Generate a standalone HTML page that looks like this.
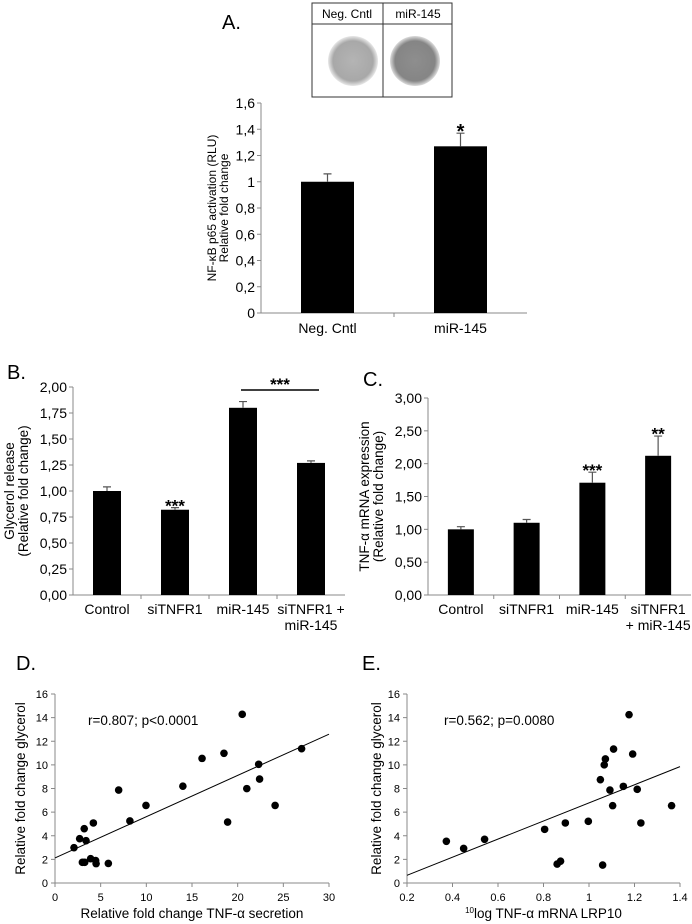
<!DOCTYPE html>
<html><head><meta charset="utf-8"><style>
html,body{margin:0;padding:0;background:#fff;}
svg{display:block;font-family:"Liberation Sans",sans-serif;}
</style></head><body>
<svg id="fig" width="692" height="924" viewBox="0 0 692 924" xmlns="http://www.w3.org/2000/svg">
<defs>
<radialGradient id="dot1" cx="50%" cy="50%" r="50%"><stop offset="0" stop-color="#b4b4b4"/><stop offset="0.8" stop-color="#a8a8a8"/><stop offset="1" stop-color="#e8e8e8"/></radialGradient>
<radialGradient id="dot2" cx="50%" cy="50%" r="50%"><stop offset="0" stop-color="#8e8e8e"/><stop offset="0.8" stop-color="#858585"/><stop offset="1" stop-color="#dcdcdc"/></radialGradient>
</defs>
<g>
<rect x="312" y="3" width="140" height="94" fill="#fff" stroke="#333" stroke-width="1"/>
<line x1="312" y1="24" x2="452" y2="24" stroke="#333"/>
<line x1="383" y1="3" x2="383" y2="97" stroke="#333"/>
<text x="347" y="18" font-size="12" text-anchor="middle">Neg. Cntl</text>
<text x="418" y="18" font-size="12" text-anchor="middle">miR-145</text>
<circle cx="353" cy="61" r="25" fill="url(#dot1)"/>
<circle cx="415" cy="61" r="25" fill="url(#dot2)"/>
</g>
<text x="222" y="29" font-size="20">A.</text>
<text x="7" y="379" font-size="20">B.</text>
<text x="363" y="386" font-size="20">C.</text>
<text x="16" y="670" font-size="20">D.</text>
<text x="362" y="670" font-size="20">E.</text>
</svg>
<script>
// Panel A data
const aCats = ["Neg. Cntl", "miR-145"];
const aVals = [1.0, 1.27];
const aErr = [0.06, 0.10];
const aSig = ["", "*"];
const aTicks = ["0","0,2","0,4","0,6","0,8","1","1,2","1,4","1,6"];
// Panel B data
const bCats = [["Control"], ["siTNFR1"], ["miR-145"], ["siTNFR1 +", "miR-145"]];
const bVals = [1.0, 0.82, 1.80, 1.27];
const bErr = [0.04, 0.02, 0.06, 0.02];
const bSig = ["", "***", "", ""];
const bTicks = ["0,00","0,25","0,50","0,75","1,00","1,25","1,50","1,75","2,00"];
// Panel C data
const cCats = [["Control"], ["siTNFR1"], ["miR-145"], ["siTNFR1", "+ miR-145"]];
const cVals = [1.0, 1.10, 1.71, 2.12];
const cErr = [0.04, 0.05, 0.16, 0.30];
const cSig = ["", "", "***", "**"];
const cTicks = ["0,00","0,50","1,00","1,50","2,00","2,50","3,00"];
// Panel D data
const dX = [2.08,2.7,3.2,3.4,4.2,3.0,3.25,3.9,4.45,4.5,5.84,6.97,8.2,9.96,14.0,16.1,18.5,18.9,20.5,21.0,22.3,22.4,24.1,27.0];
const dY = [2.99,3.75,4.6,3.58,5.08,1.75,1.75,2.06,1.9,1.64,1.66,7.87,5.25,6.57,8.2,10.55,10.98,5.16,14.28,7.99,10.05,8.8,6.57,11.37];
const dFit = [2.12, 12.6];
const dXTicks = [0,5,10,15,20,25,30];
const dYTicks = [0,2,4,6,8,10,12,14,16];
// Panel E data
const eX = [0.373,0.449,0.541,0.805,0.896,0.86,0.875,0.997,1.05,1.06,1.067,1.072,1.092,1.104,1.108,1.151,1.176,1.192,1.212,1.228,1.363];
const eY = [3.53,2.93,3.7,4.54,5.08,1.6,1.85,5.22,8.75,1.52,10.0,10.5,7.87,6.55,11.34,8.18,14.25,10.92,7.93,5.08,6.55];
const eFit = [0.65, 9.85];
const eXTicks = [0.2,0.4,0.6,0.8,1,1.2,1.4];
const eYTicks = [0,2,4,6,8,10,12,14,16];

const svg = document.getElementById('fig');
const NS = 'http://www.w3.org/2000/svg';
function mk(tag, attrs, parent) {
  const e = document.createElementNS(NS, tag);
  for (const k in attrs) e.setAttribute(k, attrs[k]);
  (parent || svg).appendChild(e);
  return e;
}
function txt(x, y, s, size, anchor, parent) {
  const t = mk('text', {x: x, y: y, 'font-size': size, 'text-anchor': anchor || 'start'}, parent);
  t.textContent = s;
  return t;
}
const AX = '#888';

function barChart(cfg) {
  const g = mk('g', {});
  
  
  const ys = v => cfg.y0 - (v - 0) / cfg.ymax * (cfg.y0 - cfg.y1);
  const yl = mk('line', {x1: cfg.x0, y1: cfg.y0, x2: cfg.x0, y2: cfg.y1, stroke: AX}, g);
  
  
  const xl = mk('line', {x1: cfg.x0, y1: cfg.y0, x2: cfg.xEnd, y2: cfg.y0, stroke: AX}, g);
  
  
  const n = cfg.ticks.length;
  cfg.ticks.forEach((lab, i) => {
    const v = cfg.ymax * i / (n - 1);
    const y = ys(v);
    mk('line', {x1: cfg.x0 - 4, y1: y, x2: cfg.x0, y2: y, stroke: AX}, g);
    const t = txt(cfg.x0 - 6, y + 5, lab, cfg.tickSize, 'end', g);
    
    
  });
  const k = cfg.vals.length;
  const slot = (cfg.xEnd - cfg.x0) / k;
  for (let i = 1; i < k; i++) {
    const x = cfg.x0 + slot * i;
    mk('line', {x1: x, y1: cfg.y0, x2: x, y2: cfg.y0 + 4, stroke: AX}, g);
  }
  cfg.vals.forEach((v, i) => {
    const cx = cfg.x0 + slot * (i + 0.5);
    const top = ys(v);
    const b = mk('rect', {x: cx - cfg.bw / 2, y: top, width: cfg.bw, height: cfg.y0 - top, fill: '#000'}, g);
    
    
    const et = ys(v + cfg.err[i]);
    const eb = mk('path', {d: `M${cx} ${top}V${et}M${cx - 4} ${et}H${cx + 4}`, stroke: '#555', 'stroke-width': 1.2, fill: 'none'}, g);
    
    
    if (cfg.sig[i]) {
      const s = txt(cx, et - 4 + cfg.sigSize * 0.45, cfg.sig[i], cfg.sigSize, 'middle', g);
      s.setAttribute('font-weight', 'bold');
      
      
    }
    const labs = Array.isArray(cfg.cats[i]) ? cfg.cats[i] : [cfg.cats[i]];
    labs.forEach((l, j) => {
      const t = txt(cx, cfg.y0 + cfg.labOff + j * 16, l, cfg.tickSize, 'middle', g);
      
      
    });
  });
  const midY = (cfg.y0 + cfg.y1) / 2;
  cfg.ylabel.forEach((l, j) => {
    const x = cfg.ylabX + j * cfg.ylabGap;
    const t = txt(x, midY, l, cfg.ylabSize, 'middle', g);
    t.setAttribute('transform', `rotate(-90 ${x} ${midY})`);
    
    
  });
  return {g: g, ys: ys, slot: slot};
}

barChart({name: 'chart-a', x0: 261, xEnd: 527, y0: 313, y1: 103, ymax: 1.6, bw: 53,
  vals: aVals, err: aErr, sig: aSig, cats: aCats, ticks: aTicks, tickSize: 14, sigSize: 20,
  labOff: 20, ylabel: ['NF-\u03BAB p65 activation (RLU)', 'Relative fold change'], ylabX: 216, ylabGap: 12, ylabSize: 12});

barChart({name: 'chart-b', x0: 73, xEnd: 345, y0: 595, y1: 387, ymax: 2.0, bw: 28,
  vals: bVals, err: bErr, sig: bSig, cats: bCats, ticks: bTicks, tickSize: 14, sigSize: 17,
  labOff: 19, ylabel: ['Glycerol release', '(Relative fold change)'], ylabX: 14, ylabGap: 14, ylabSize: 13.5});
{
  const br = mk('line', {x1: 241, y1: 390, x2: 319, y2: 390, stroke: '#000', 'stroke-width': 1.5});
  
  
  const s = txt(280, 390, '***', 17, 'middle');
  s.setAttribute('font-weight', 'bold');
  
  
}

barChart({name: 'chart-c', x0: 428, xEnd: 691, y0: 595, y1: 398, ymax: 3.0, bw: 26,
  vals: cVals, err: cErr, sig: cSig, cats: cCats, ticks: cTicks, tickSize: 14, sigSize: 17,
  labOff: 19, ylabel: ['TNF-\u03B1 mRNA expression', '(Relative fold change)'], ylabX: 369, ylabGap: 14, ylabSize: 13.5});

function scatter(cfg) {
  const g = mk('g', {});
  
  
  const xs = v => cfg.x0 + (v - cfg.xmin) / (cfg.xmax - cfg.xmin) * (cfg.x1 - cfg.x0);
  const ys = v => cfg.y0 - (v - cfg.ymin) / (cfg.ymax - cfg.ymin) * (cfg.y0 - cfg.y1);
  const yl = mk('line', {x1: cfg.x0, y1: cfg.y0, x2: cfg.x0, y2: cfg.y1, stroke: AX}, g);
  
  
  const xl = mk('line', {x1: cfg.x0, y1: cfg.y0, x2: cfg.x1, y2: cfg.y0, stroke: AX}, g);
  
  
  cfg.yt.forEach(v => {
    const y = ys(v);
    mk('line', {x1: cfg.x0 - 4, y1: y, x2: cfg.x0, y2: y, stroke: AX}, g);
    const t = txt(cfg.x0 - 7, y + 4, String(v), 11, 'end', g);
    
    
  });
  cfg.xt.forEach(v => {
    const x = xs(v);
    mk('line', {x1: x, y1: cfg.y0, x2: x, y2: cfg.y0 + 4, stroke: AX}, g);
    const t = txt(x, cfg.y0 + 18, String(v), 11, 'middle', g);
    
    
  });
  const fl = mk('line', {x1: xs(cfg.xmin), y1: ys(cfg.fit[0]), x2: xs(cfg.xmax), y2: ys(cfg.fit[1]), stroke: '#000', 'stroke-width': 1}, g);
  
  
  cfg.xv.forEach((v, i) => {
    const c = mk('circle', {cx: xs(v), cy: ys(cfg.yv[i]), r: 3.8, fill: '#000'}, g);
    
    
  });
  const st = txt(cfg.statX, 725, cfg.stat, 13.5, 'start', g);
  
  
  const midY = (cfg.y0 + cfg.y1) / 2;
  const yt = txt(cfg.ylabX, midY, 'Relative fold change glycerol', 13.5, 'middle', g);
  yt.setAttribute('transform', `rotate(-90 ${cfg.ylabX} ${midY})`);
  
  
  const xt = mk('text', {x: (cfg.x0 + cfg.x1) / 2, y: 918, 'font-size': 13.5, 'text-anchor': 'middle'}, g);
  xt.innerHTML = cfg.xlab;
  
  
}

scatter({name: 'chart-d', x0: 55, x1: 329, y0: 883, y1: 694, xmin: 0, xmax: 30, ymin: 0, ymax: 16,
  xv: dX, yv: dY, fit: dFit, xt: dXTicks, yt: dYTicks, statX: 88, stat: 'r=0.807; p<0.0001',
  ylabX: 25, xlab: 'Relative fold change TNF-\u03B1 secretion'});
scatter({name: 'chart-e', x0: 407, x1: 680, y0: 883, y1: 694, xmin: 0.2, xmax: 1.4, ymin: 0, ymax: 16,
  xv: eX, yv: eY, fit: eFit, xt: eXTicks, yt: eYTicks, statX: 444, stat: 'r=0.562; p=0.0080',
  ylabX: 381, xlab: '<tspan font-size="8" dy="-5">10</tspan><tspan dy="5">log TNF-\u03B1 mRNA LRP10</tspan>'});
</script>
</body></html>
